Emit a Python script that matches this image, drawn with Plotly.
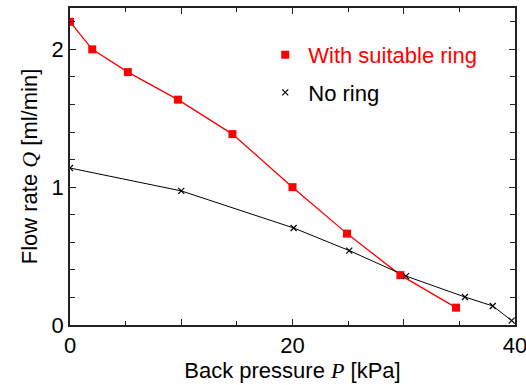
import plotly.graph_objects as go

ring_P = [0, 2, 5.2, 9.7, 14.6, 20.0, 24.9, 29.7, 34.7]
ring_Q = [2.2, 2.0, 1.835, 1.635, 1.385, 1.0, 0.663, 0.362, 0.126]
noring_P = [0, 10.0, 20.1, 25.1, 30.2, 35.5, 38.0, 39.7]
noring_Q = [1.139, 0.973, 0.704, 0.54, 0.355, 0.203, 0.138, 0.032]

x_tickvals = [0, 10, 20, 30, 40]
x_ticktext = ["0", "", "20", "", "40"]
y_tickvals = [0, 1, 2]
y_ticktext = ["0", "1", "2"]

FONT = "Liberation Sans, Arial, sans-serif"

fig = go.Figure()
# lines (no legend)
fig.add_trace(go.Scatter(
    x=ring_P, y=ring_Q, mode="lines", showlegend=False,
    line=dict(color="#ff0000", width=1.3),
))
fig.add_trace(go.Scatter(
    x=noring_P, y=noring_Q, mode="lines", showlegend=False,
    line=dict(color="#000000", width=1),
))
# markers (legend)
fig.add_trace(go.Scatter(
    x=ring_P, y=ring_Q, mode="markers",
    name="<span style='color:#ff0000'>With suitable ring</span>",
    marker=dict(symbol="square", size=8, color="#ff0000"),
    legendgroup="a",
))
fig.add_trace(go.Scatter(
    x=noring_P, y=noring_Q, mode="markers",
    name="No ring",
    marker=dict(symbol="x-thin", size=6, line=dict(color="#000000", width=1.2)),
    legendgroup="b",
))

axis_common = dict(
    showline=True, linecolor="#222222", linewidth=1.5, mirror="ticks",
    ticks="inside", ticklen=6, tickwidth=1, tickcolor="#222222",
    showgrid=False, zeroline=False, ticklabeloverflow="allow",
    automargin=False,
    tickfont=dict(family=FONT, size=22, color="#000000"),
)

fig.update_layout(
    width=526, height=385,
    margin=dict(l=70, r=11, t=8, b=60, autoexpand=False),
    paper_bgcolor="white", plot_bgcolor="white",
    font=dict(family=FONT, size=22, color="#000000"),
    showlegend=True,
    legend=dict(
        x=0.432, y=0.918, xanchor="left", yanchor="top",
        bgcolor="rgba(0,0,0,0)", borderwidth=0,
        font=dict(family=FONT, size=22, color="#000000"),
        traceorder="grouped", tracegroupgap=6,
        itemwidth=36,
    ),
    xaxis=dict(
        range=[0, 40], tickvals=x_tickvals, ticktext=x_ticktext,
        minor=dict(dtick=5, ticks="inside", ticklen=4, tickcolor="#222222"),
        title=dict(text="Back pressure <span style='font-family:Liberation Serif'><i>P</i></span> [kPa]",
                   font=dict(family=FONT, size=22), standoff=0),
        **axis_common,
    ),
    yaxis=dict(
        range=[0, 2.3], tickvals=y_tickvals, ticktext=y_ticktext,
        minor=dict(dtick=0.2, ticks="inside", ticklen=5, tickcolor="#222222"),
        title=dict(text="Flow rate <span style='font-family:Liberation Serif'><i>Q</i></span> [ml/min]",
                   font=dict(family=FONT, size=22), standoff=8),
        **axis_common,
    ),
)

fig.write_html("out.html")
